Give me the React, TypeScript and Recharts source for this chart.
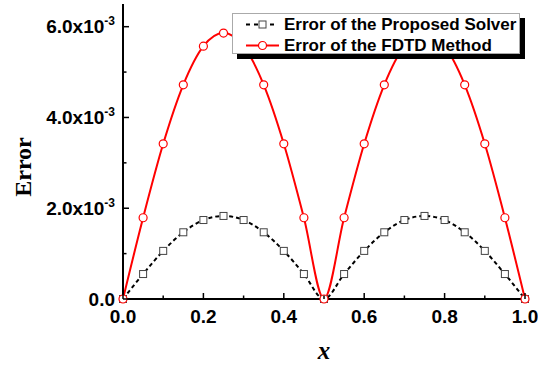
import React from 'react';
import { LineChart, Line, XAxis, YAxis, Legend } from 'recharts';

const xValues = [0, 0.05, 0.1, 0.15, 0.2, 0.25, 0.3, 0.35, 0.4, 0.45, 0.5, 0.55, 0.6, 0.65, 0.7, 0.75, 0.8, 0.85, 0.9, 0.95, 1.0];
const proposedError = [0, 0.00055, 0.00106, 0.00147, 0.00174, 0.00183, 0.00174, 0.00147, 0.00106, 0.00055, 0, 0.00055, 0.00106, 0.00147, 0.00174, 0.00183, 0.00174, 0.00147, 0.00106, 0.00055, 0];
const fdtdError = [0, 0.00179, 0.00342, 0.00472, 0.00557, 0.00586, 0.00557, 0.00472, 0.00342, 0.00179, 0, 0.00179, 0.00342, 0.00472, 0.00557, 0.00586, 0.00557, 0.00472, 0.00342, 0.00179, 0];
const xTicks = [0, 0.1, 0.2, 0.3, 0.4, 0.5, 0.6, 0.7, 0.8, 0.9, 1.0];
const yTicks = [0, 0.001, 0.002, 0.003, 0.004, 0.005, 0.006];
const seriesNames = ['Error of the Proposed Solver', 'Error of the FDTD Method'];
const xLabel = 'x';
const yLabel = 'Error';

const data = xValues.map((x, i) => ({ x, proposed: proposedError[i], fdtd: fdtdError[i] }));

const SANS = 'Arial, "Liberation Sans", sans-serif';
const SERIF = '"Times New Roman", "Liberation Serif", serif';

const isMajorX = (v: number) => Math.round(v * 10) % 2 === 0;
const isMajorY = (v: number) => Math.round(v * 1000) % 2 === 0;

const BottomTick = (props: any) => {
  const { x, y, payload } = props;
  const major = isMajorX(payload.value);
  return (
    <g>
      <line x1={x} y1={y} x2={x} y2={y - (major ? 6 : 3.5)} stroke="#000" strokeWidth={1.5} />
      {major && (
        <text x={x} y={y + 24} textAnchor="middle" fontFamily={SANS} fontWeight="bold" fontSize={19} fill="#000">
          {payload.value.toFixed(1)}
        </text>
      )}
    </g>
  );
};

const TopTick = (props: any) => {
  const { x, y, payload } = props;
  const major = isMajorX(payload.value);
  return <line x1={x} y1={y} x2={x} y2={y + (major ? 6 : 3.5)} stroke="#000" strokeWidth={1.5} />;
};

const LeftTick = (props: any) => {
  const { x, y, payload } = props;
  const v = payload.value as number;
  const major = isMajorY(v);
  const mant = (v * 1000).toFixed(1);
  return (
    <g>
      <line x1={x} y1={y} x2={x + (major ? 6 : 3.5)} y2={y} stroke="#000" strokeWidth={1.5} />
      {major && (
        <text x={x - 8} y={y + 6.5} textAnchor="end" fontFamily={SANS} fontWeight="bold" fontSize={19} fill="#000">
          {v === 0 ? (
            '0.0'
          ) : (
            <>
              <tspan>{mant + 'x10'}</tspan>
              <tspan dy={-8} fontSize={12}>-3</tspan>
            </>
          )}
        </text>
      )}
    </g>
  );
};

const RightTick = (props: any) => {
  const { x, y, payload } = props;
  const major = isMajorY(payload.value);
  return <line x1={x} y1={y} x2={x - (major ? 6 : 3.5)} y2={y} stroke="#000" strokeWidth={1.5} />;
};

const SquareDot = (props: any) => {
  const { cx, cy, index } = props;
  if (cx == null || cy == null) return <g key={index} />;
  return <rect key={index} x={cx - 3.5} y={cy - 3.5} width={7} height={7} fill="#fff" stroke="#444" strokeWidth={1} />;
};

const textStyle: React.CSSProperties = {
  fontFamily: SANS,
  fontWeight: 'bold',
  fontSize: 17,
  color: '#000',
  whiteSpace: 'nowrap',
  lineHeight: '21px',
};

const LegendBox = () => (
  <div
    style={{
      width: 286,
      height: 39,
      background: '#fff',
      border: '1px solid #aaa',
      boxShadow: '5px 5px 0 #000',
      paddingTop: 0,
      boxSizing: 'content-box',
    }}
  >
    <div style={{ display: 'flex', alignItems: 'center', height: 21 }}>
      <svg width={51} height={21} style={{ flex: 'none' }}>
        <line x1={13} y1={10.5} x2={41} y2={10.5} stroke="#000" strokeWidth={2} strokeDasharray="4 4" />
        <rect x={26} y={7} width={7} height={7} fill="#fff" stroke="#444" strokeWidth={1} />
      </svg>
      <span style={textStyle}>{seriesNames[0]}</span>
    </div>
    <div style={{ display: 'flex', alignItems: 'center', height: 21 }}>
      <svg width={51} height={21} style={{ flex: 'none' }}>
        <line x1={13} y1={10.5} x2={46} y2={10.5} stroke="#ff0000" strokeWidth={2} />
        <circle cx={29.5} cy={10.5} r={4} fill="#fff" stroke="#ff0000" strokeWidth={1.2} />
      </svg>
      <span style={textStyle}>{seriesNames[1]}</span>
    </div>
  </div>
);

export default function App() {
  return (
    <div style={{ position: 'absolute', left: 0, top: 0, width: 538, height: 366, background: '#fff' }}>
      <LineChart width={538} height={366} data={data} margin={{ top: 4, right: 13, bottom: 0, left: 0 }}>
        <XAxis
          xAxisId="bottom"
          dataKey="x"
          type="number"
          domain={[0, 1]}
          ticks={xTicks}
          height={67}
          tickSize={0}
          tickMargin={0}
          tick={<BottomTick />}
          tickLine={false}
          axisLine={{ stroke: '#000', strokeWidth: 2 }}
          label={(p: any) => (
            <text x={324} y={359} textAnchor="middle" fontFamily={SERIF} fontStyle="italic" fontWeight="bold" fontSize={25} fill="#000">
              {xLabel}
            </text>
          )}
        />
        <XAxis
          xAxisId="top"
          orientation="top"
          dataKey="x"
          type="number"
          domain={[0, 1]}
          ticks={xTicks}
          height={0}
          tickSize={0}
          tickMargin={0}
          tick={<TopTick />}
          tickLine={false}
          axisLine={{ stroke: '#000', strokeWidth: 2 }}
        />
        <YAxis
          yAxisId="left"
          type="number"
          domain={[0, 0.0065]}
          ticks={yTicks}
          width={123}
          tickSize={0}
          tickMargin={0}
          tick={<LeftTick />}
          tickLine={false}
          axisLine={{ stroke: '#000', strokeWidth: 2 }}
          label={(p: any) => (
            <text
              x={31}
              y={167}
              transform="rotate(-90 31 167)"
              textAnchor="middle"
              fontFamily={SERIF}
              fontWeight="bold"
              fontSize={24}
              fill="#000"
            >
              {yLabel}
            </text>
          )}
        />
        <YAxis
          yAxisId="right"
          orientation="right"
          type="number"
          domain={[0, 0.0065]}
          ticks={yTicks}
          width={0}
          tickSize={0}
          tickMargin={0}
          tick={<RightTick />}
          tickLine={false}
          axisLine={{ stroke: '#000', strokeWidth: 2 }}
        />
        <Legend
          layout="vertical"
          align="center"
          verticalAlign="middle"
          wrapperStyle={{ left: 232, top: 13, width: 'auto', height: 'auto' }}
          content={() => <LegendBox />}
        />
        <Line
          xAxisId="bottom"
          yAxisId="left"
          dataKey="proposed"
          name={seriesNames[0]}
          type="monotone"
          stroke="#000"
          strokeWidth={2}
          strokeDasharray="4 3"
          dot={<SquareDot />}
          isAnimationActive={false}
        />
        <Line
          xAxisId="bottom"
          yAxisId="left"
          dataKey="fdtd"
          name={seriesNames[1]}
          type="monotone"
          stroke="#ff0000"
          strokeWidth={2}
          dot={{ r: 4, fill: '#fff', stroke: '#ff0000', strokeWidth: 1.2 }}
          isAnimationActive={false}
        />
      </LineChart>
    </div>
  );
}
